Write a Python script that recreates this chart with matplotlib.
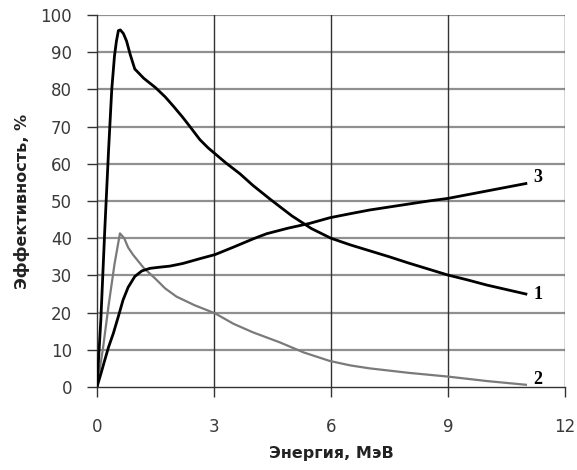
import matplotlib
matplotlib.use("Agg")
import matplotlib.pyplot as plt

# Curve 1
x1 = [0, 0.1, 0.2, 0.3, 0.38, 0.45, 0.5, 0.55, 0.6, 0.68, 0.76, 0.85, 0.97, 1.2, 1.5, 1.75,
      1.96, 2.2, 2.4, 2.64, 2.85, 3.03, 3.3, 3.67, 4.0, 4.44, 5.0, 5.5, 6.0, 6.5, 7.0, 7.5,
      8.0, 8.5, 9.0, 9.5, 10.0, 10.5, 11.0]
y1 = [0, 18, 42, 64, 80, 89, 93, 95.8, 96, 95, 93, 89.5, 85.5, 83, 80.5, 78,
      75.5, 72.5, 69.8, 66.5, 64.3, 62.7, 60.3, 57.3, 54.2, 50.5, 46, 42.6, 40, 38.2, 36.6, 35,
      33.3, 31.7, 30.1, 28.8, 27.4, 26.2, 25]
# Curve 2
x2 = [0, 0.15, 0.3, 0.45, 0.59, 0.7, 0.8, 0.93, 1.2, 1.49, 1.75, 2.04, 2.5, 3.03, 3.5, 4.0,
      4.69, 5.3, 5.97, 6.5, 7.0, 7.5, 8.0, 8.5, 9.0, 9.5, 10.0, 10.5, 11.0]
y2 = [0, 10, 22, 33, 41.3, 40, 37.5, 35.5, 32, 29.2, 26.5, 24.3, 22, 19.8, 17, 14.7,
      12, 9.3, 7, 5.8, 5, 4.4, 3.8, 3.3, 2.8, 2.2, 1.6, 1.1, 0.6]
# Curve 3
x3 = [0, 0.1, 0.2, 0.3, 0.42, 0.55, 0.67, 0.8, 0.97, 1.15, 1.36, 1.6, 1.87, 2.2, 2.64, 3.03,
      3.5, 4.0, 4.35, 4.9, 5.46, 5.97, 6.5, 7.0, 7.5, 8.0, 8.5, 9.0, 9.5, 10.0, 10.5, 11.0]
y3 = [0, 3.5, 7.2, 10.8, 14.4, 19, 23.4, 26.8, 29.7, 31.2, 31.9, 32.2, 32.5, 33.2, 34.5, 35.6,
      37.6, 39.8, 41.2, 42.7, 44, 45.5, 46.6, 47.6, 48.4, 49.2, 50, 50.7, 51.7, 52.7, 53.7, 54.7]

curve_labels = ["1", "2", "3"]
x_ticks = [0, 3, 6, 9, 12]
y_ticks = list(range(0, 101, 10))

fig = plt.figure(figsize=(5.77, 4.70), dpi=100)
ax = fig.add_axes([0.168, 0.1766, 0.811, 0.7914])
ax.set_xlim(0, 12)
ax.set_ylim(0, 100)

for yv in y_ticks[1:]:
    ax.axhline(yv, color="#909090", lw=1.6, zorder=1)
for xv in x_ticks[1:]:
    ax.axvline(xv, color="#333333", lw=1.0, zorder=1)

ax.plot(x2, y2, color="#7a7a7a", lw=1.6, zorder=3, solid_joinstyle="round")
ax.plot(x3, y3, color="black", lw=2.0, zorder=4, solid_joinstyle="round")
ax.plot(x1, y1, color="black", lw=2.0, zorder=4, solid_joinstyle="round")

lab_font = dict(family="Liberation Serif", fontsize=13, fontweight="bold", va="center", ha="left")
ax.text(x1[-1] + 0.2, y1[-1], curve_labels[0], **lab_font)
ax.text(x2[-1] + 0.2, y2[-1] + 1.5, curve_labels[1], **lab_font)
ax.text(x3[-1] + 0.2, y3[-1] + 1.5, curve_labels[2], **lab_font)

for s in ["top", "right"]:
    ax.spines[s].set_visible(False)
ax.spines["left"].set_color("#333333")
ax.spines["bottom"].set_color("#333333")
ax.spines["left"].set_linewidth(1.0)
ax.spines["bottom"].set_linewidth(1.0)

ax.set_xticks(x_ticks)
ax.set_yticks(y_ticks)
ax.tick_params(axis="both", direction="out", length=7, width=1.0, color="#333333",
               labelsize=12, labelcolor="#3a3a3a")
ax.tick_params(axis="x", pad=15)
ax.tick_params(axis="y", pad=11)
for t in ax.get_xticklabels() + ax.get_yticklabels():
    t.set_family("DejaVu Sans")

ax.set_xlabel("Энергия, МэВ", fontsize=11.5, fontweight="bold", family="DejaVu Sans",
              color="#222222")
ax.set_ylabel("Эффективность, %", fontsize=11.5, fontweight="bold", family="DejaVu Sans",
              color="#222222")
ax.xaxis.set_label_coords(0.5, -0.158)
ax.yaxis.set_label_coords(-0.143, 0.5)

fig.savefig("out.png", dpi=100)
